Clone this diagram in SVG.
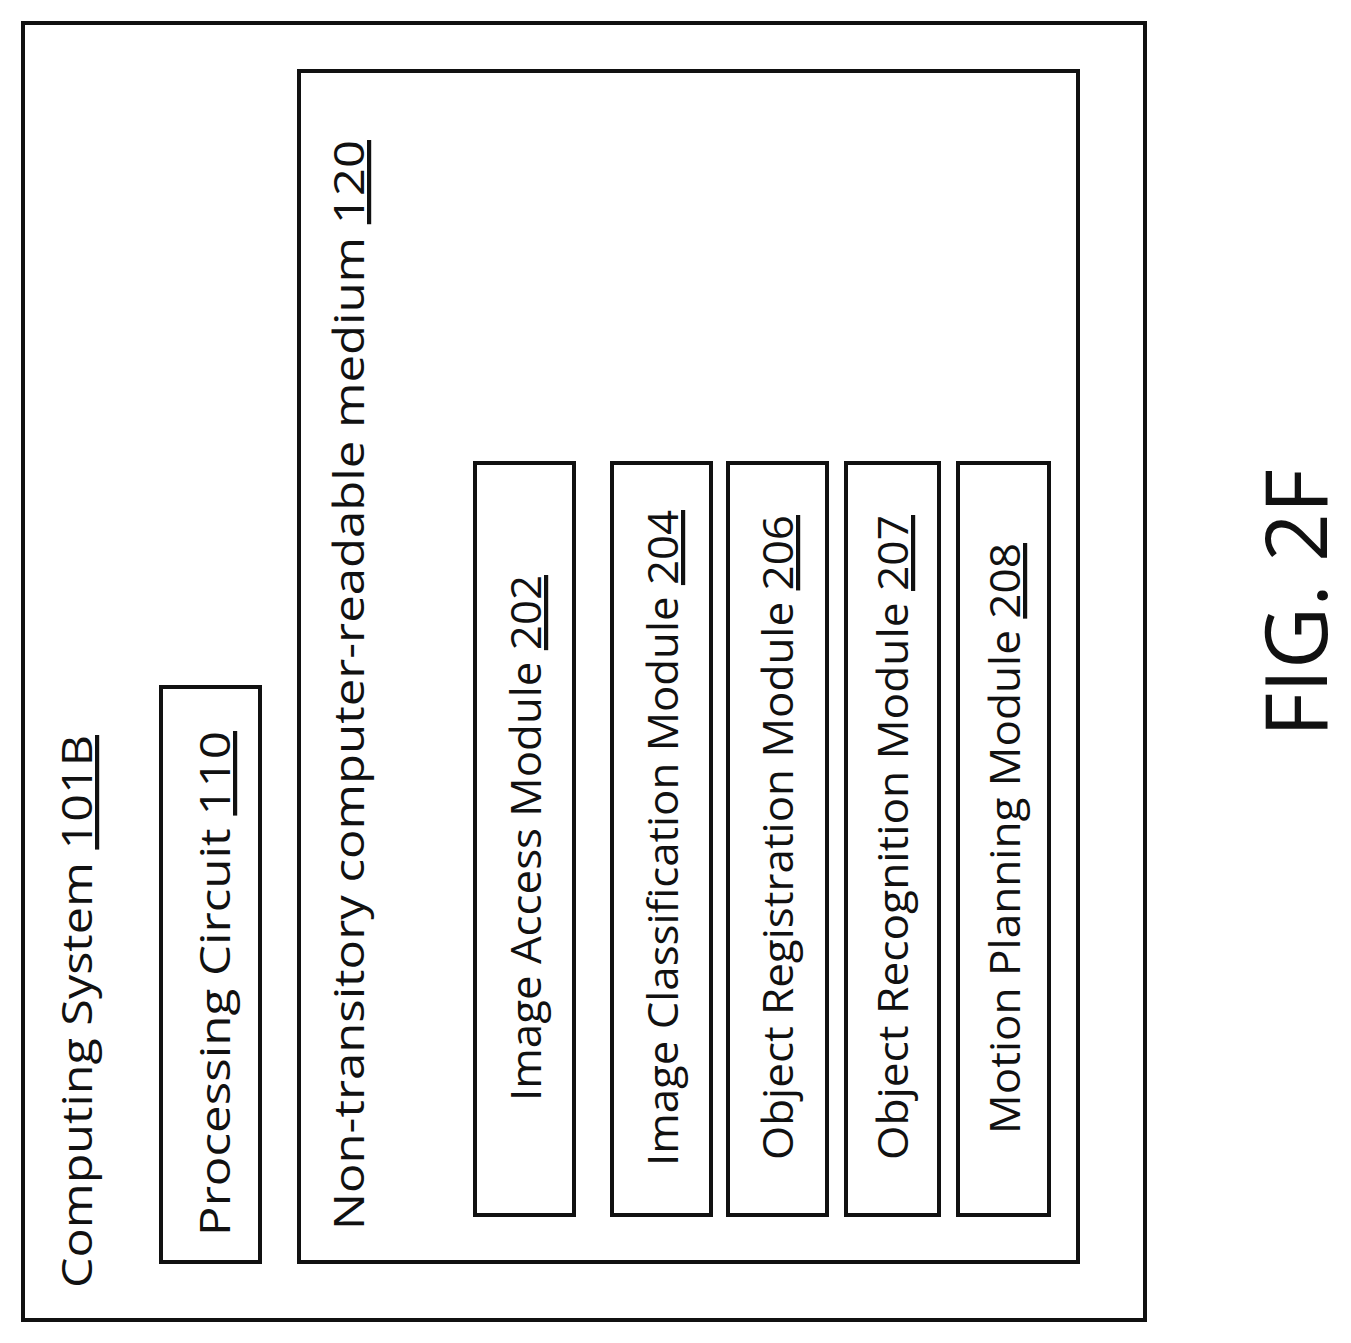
<svg xmlns="http://www.w3.org/2000/svg" width="1351" height="1343" viewBox="0 0 1351 1343">
<style>
rect{fill:none;stroke:#111;stroke-width:4}
text{font-family:"Open Sans","Liberation Sans",sans-serif;font-size:42px;fill:#111}
.u{text-decoration:underline}
</style>
<rect x="0" y="0" width="1351" height="1343" style="fill:#fff;stroke:none"/>
<g id="computing-system">
<rect x="23" y="23" width="1122" height="1297"/>
<text transform="translate(92,1288) rotate(-90)" textLength="553" lengthAdjust="spacingAndGlyphs">Computing System <tspan class="u">101B</tspan></text>
</g>
<g id="processing-circuit">
<rect x="161" y="687" width="99" height="575"/>
<text transform="translate(230,1236) rotate(-90)" textLength="505" lengthAdjust="spacingAndGlyphs">Processing Circuit <tspan class="u">110</tspan></text>
</g>
<g id="medium">
<rect x="299" y="71" width="779" height="1191"/>
<text transform="translate(364,1230) rotate(-90)" textLength="1090" lengthAdjust="spacingAndGlyphs">Non-transitory computer-readable medium <tspan class="u">120</tspan></text>
</g>
<g id="m202">
<rect x="475" y="463" width="99" height="752"/>
<text transform="translate(541,1101) rotate(-90)" textLength="526" lengthAdjust="spacingAndGlyphs">Image Access Module <tspan class="u">202</tspan></text>
</g>
<g id="m204">
<rect x="612" y="463" width="99" height="752"/>
<text transform="translate(678,1166) rotate(-90)" textLength="656" lengthAdjust="spacingAndGlyphs">Image Classification Module <tspan class="u">204</tspan></text>
</g>
<g id="m206">
<rect x="728" y="463" width="99" height="752"/>
<text transform="translate(793,1160) rotate(-90)" textLength="645" lengthAdjust="spacingAndGlyphs">Object Registration Module <tspan class="u">206</tspan></text>
</g>
<g id="m207">
<rect x="846" y="463" width="93" height="752"/>
<text transform="translate(908,1160) rotate(-90)" textLength="645" lengthAdjust="spacingAndGlyphs">Object Recognition Module <tspan class="u">207</tspan></text>
</g>
<g id="m208">
<rect x="958" y="463" width="91" height="752"/>
<text transform="translate(1020,1134) rotate(-90)" textLength="591" lengthAdjust="spacingAndGlyphs">Motion Planning Module <tspan class="u">208</tspan></text>
</g>
<g id="connectors"/>
<text transform="translate(1327,737) rotate(-90)" style="font-size:86px" textLength="268" lengthAdjust="spacingAndGlyphs">FIG. 2F</text>
</svg>
